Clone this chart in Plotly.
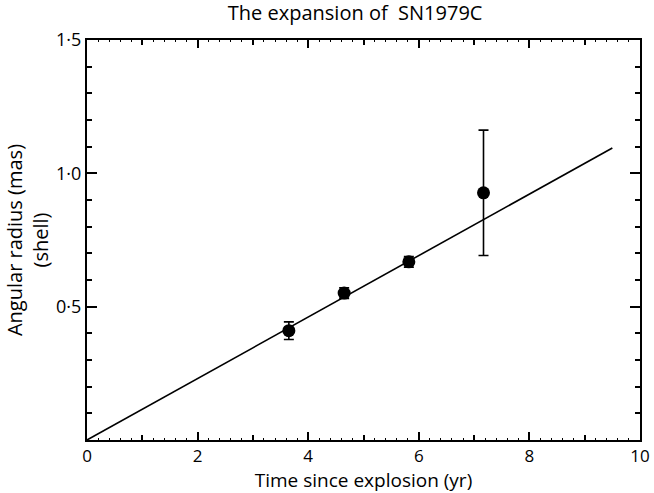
import plotly.graph_objects as go

# Data
time_yr = [3.65, 4.65, 5.82, 7.17]
radius_mas = [0.41, 0.551, 0.668, 0.927]
radius_err = [0.033, 0.02, 0.02, 0.235]

fit_x = [0.0, 9.5]
fit_y = [0.0, 1.095]

y_tickvals = [0.5, 1.0, 1.5]
y_ticktext = ["0·5", "1·0", "1·5"]
x_tickvals = [0, 2, 4, 6, 8, 10]
x_ticktext = ["0", "2", "4", "6", "8", "10"]
x_odd_ticks = [1, 3, 5, 7, 9]

FONT = "Open Sans"

fig = go.Figure()
fig.add_trace(go.Scatter(
    x=fit_x, y=fit_y, mode="lines",
    line=dict(color="black", width=1.6), showlegend=False, hoverinfo="skip"))
fig.add_trace(go.Scatter(
    x=time_yr, y=radius_mas, mode="markers",
    marker=dict(color="black", size=13, symbol="circle"),
    error_y=dict(type="data", array=radius_err, visible=True,
                 color="black", thickness=1.6, width=5),
    showlegend=False))
# dummy trace to activate the overlay axis for odd ticks
fig.add_trace(go.Scatter(x=[0, 10], y=[0, 0], xaxis="x2", mode="markers",
                         marker=dict(opacity=0), showlegend=False, hoverinfo="skip"))

fig.update_layout(
    width=654, height=493,
    margin=dict(l=87, r=14, t=40, b=53),
    paper_bgcolor="white", plot_bgcolor="white",
    font=dict(family=FONT, color="black", size=19),
    title=dict(text="The expansion of  SN1979C", x=0.543, xanchor="center",
               y=0.973, yanchor="middle", font=dict(size=20, family=FONT, color="black")),
    xaxis=dict(range=[0, 10], tickvals=x_tickvals, ticktext=x_ticktext,
               ticks="inside", ticklen=8, tickwidth=1.5, tickcolor="black",
               showline=True, linecolor="black", linewidth=2, mirror="ticks",
               showgrid=False, zeroline=False, automargin=False,
               minor=dict(dtick=0.2, ticks="inside", ticklen=2, tickwidth=1.2,
                          tickcolor="black", showgrid=False),
               tickfont=dict(size=17, color="black"),
               title=dict(text="Time since explosion (yr)", standoff=6,
                          font=dict(size=19, color="black"))),
    xaxis2=dict(range=[0, 10], overlaying="x", side="bottom",
                tickvals=x_odd_ticks, ticks="inside", ticklen=5, tickwidth=1.5,
                tickcolor="black", showticklabels=False, showgrid=False,
                zeroline=False, showline=False, mirror="ticks", automargin=False),
    yaxis=dict(range=[0, 1.5], tickvals=y_tickvals, ticktext=y_ticktext,
               ticks="inside", ticklen=10, tickwidth=1.5, tickcolor="black",
               showline=True, linecolor="black", linewidth=2, mirror="ticks",
               showgrid=False, zeroline=False, automargin=False,
               minor=dict(dtick=0.1, ticks="inside", ticklen=5, tickwidth=1.5,
                          tickcolor="black", showgrid=False),
               tickfont=dict(size=18, color="black"),
               title=dict(text="Angular radius (mas)<br>(shell)", standoff=2,
                          font=dict(size=20, color="black"))),
)

fig.write_html("out.html")
